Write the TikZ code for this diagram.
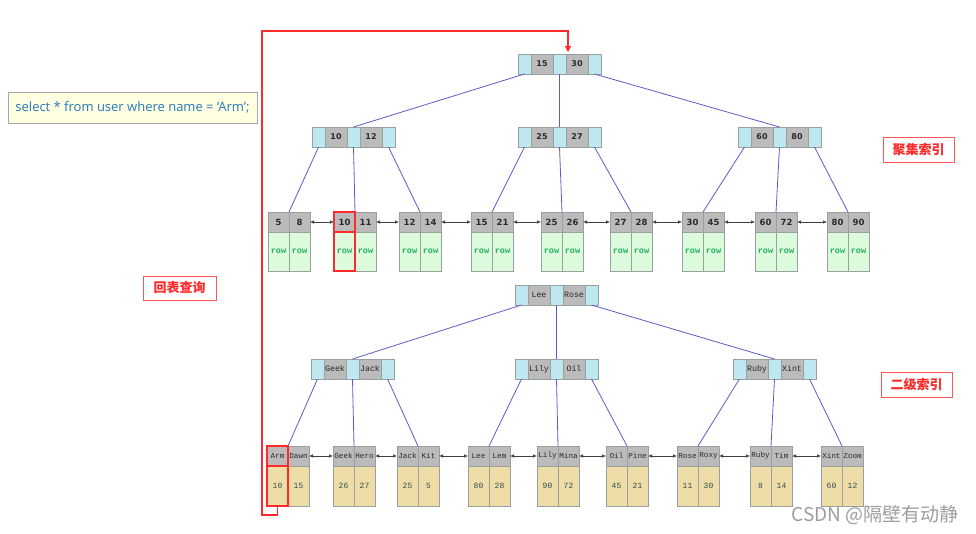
\documentclass[tikz,border=0pt]{standalone}
\usepackage{fontspec}
\usetikzlibrary{arrows.meta}
\newfontfamily\cjkf{Noto Sans CJK SC}
\newfontfamily\numf{DejaVu Sans}
\newfontfamily\monof{Liberation Mono}
\newfontfamily\sqlf{Open Sans}
\definecolor{cyanc}{HTML}{BDE8EF}
\definecolor{grayc}{HTML}{BBBBBB}
\definecolor{bordc}{HTML}{9AA0A0}
\definecolor{greenc}{HTML}{DCFADC}
\definecolor{tanc}{HTML}{EFDDA8}
\definecolor{rowgreen}{HTML}{20B060}
\definecolor{edgec}{HTML}{5C5CC8}
\definecolor{arrowc}{HTML}{404040}
\definecolor{redc}{HTML}{FF2A2A}
\definecolor{sqlfill}{HTML}{FFFFE2}
\definecolor{sqltext}{HTML}{2878B8}
\definecolor{txtc}{HTML}{2A2A2A}
\definecolor{valc}{HTML}{2F4F4F}
\tikzset{
  cell/.style={draw=bordc, line width=0.7pt, anchor=north west, inner sep=0pt, outer sep=0pt, minimum height=20pt, text=txtc},
  cy/.style={cell, fill=cyanc, minimum width=13pt},
  gy/.style={cell, fill=grayc, minimum width=22pt},
  numfont/.style={font=\numf\bfseries\fontsize{8}{9}\selectfont},
  leafnum/.style={font=\numf\bfseries\fontsize{8.5}{9}\selectfont},
  monofont/.style={font=\monof\fontsize{8.3}{9}\selectfont},
  leafmono/.style={font=\monof\fontsize{7.6}{9}\selectfont},
  lk/.style={cell, fill=grayc, minimum width=21pt},
  rowv/.style={cell, fill=greenc, minimum width=21pt, minimum height=39pt, text=rowgreen, font=\monof\bfseries\fontsize{8.5}{9}\selectfont},
  tanv/.style={cell, fill=tanc, minimum width=21pt, minimum height=40pt, text=valc, font=\monof\fontsize{8}{9}\selectfont},
  edge/.style={draw=edgec, line width=0.8pt},
  larrow/.style={draw=arrowc, line width=0.6pt, {Latex[length=4pt,width=3.5pt]}-{Latex[length=4pt,width=3.5pt]}},
  redhl/.style={draw=redc, line width=1.5pt},
  redline/.style={draw=redc, line width=1.1pt, -{Triangle[length=6pt,width=6pt]}},
  redlabel/.style={draw=redc!80, line width=0.8pt, fill=white, text=redc, inner sep=0pt, minimum width=71pt, minimum height=25pt, font=\cjkf\bfseries\fontsize{13}{15}\selectfont},
}
\newcommand\inode[6]{%
 \node[cy] (#1-c1) at (#2,#3) {};
 \node[gy,#6] (#1-k1) at (#1-c1.north east) {#4};
 \node[cy] (#1-c2) at (#1-k1.north east) {};
 \node[gy,#6] (#1-k2) at (#1-c2.north east) {#5};
 \node[cy] (#1-c3) at (#1-k2.north east) {};
}
\newcommand\leaf[9]{%
 \node[lk,#9] (#1-k1) at (#2,#3) {#4};
 \node[lk,#9] (#1-k2) at (#1-k1.north east) {#5};
 \node[#8] (#1-v1) at (#1-k1.south west) {#6};
 \node[#8] (#1-v2) at (#1-v1.north east) {#7};
}
\begin{document}
\begin{tikzpicture}[x=1pt,y=-1pt]
\useasboundingbox (0,0) rectangle (976,533);
\fill[white] (0,0) rectangle (976,533);

% clustered index
\inode{R0}{518}{54}{15}{30}{numfont}
\inode{N1}{312}{127}{10}{12}{numfont}
\inode{N2}{518}{127}{25}{27}{numfont}
\inode{N3}{738}{127}{60}{80}{numfont}
\leaf{C1}{268}{212}{5}{8}{row}{row}{rowv}{leafnum}
\leaf{C2}{334}{212}{10}{11}{row}{row}{rowv}{leafnum}
\leaf{C3}{399}{212}{12}{14}{row}{row}{rowv}{leafnum}
\leaf{C4}{471}{212}{15}{21}{row}{row}{rowv}{leafnum}
\leaf{C5}{541}{212}{25}{26}{row}{row}{rowv}{leafnum}
\leaf{C6}{610}{212}{27}{28}{row}{row}{rowv}{leafnum}
\leaf{C7}{682}{212}{30}{45}{row}{row}{rowv}{leafnum}
\leaf{C8}{755}{212}{60}{72}{row}{row}{rowv}{leafnum}
\leaf{C9}{827}{212}{80}{90}{row}{row}{rowv}{leafnum}

\draw[edge] (R0-c1.south) -- (N1-c2.north);
\draw[edge] (R0-c2.south) -- (N2-c2.north);
\draw[edge] (R0-c3.south) -- (N3-c2.north);
\draw[edge] (N1-c1.south) -- (C1-k1.north east);
\draw[edge] (N1-c2.south) -- (C2-k1.north east);
\draw[edge] (N1-c3.south) -- (C3-k1.north east);
\draw[edge] (N2-c1.south) -- (C4-k1.north east);
\draw[edge] (N2-c2.south) -- (C5-k1.north east);
\draw[edge] (N2-c3.south) -- (C6-k1.north east);
\draw[edge] (N3-c1.south) -- (C7-k1.north east);
\draw[edge] (N3-c2.south) -- (C8-k1.north east);
\draw[edge] (N3-c3.south) -- (C9-k1.north east);
\foreach \a/\b in {1/2,2/3,3/4,4/5,5/6,6/7,7/8,8/9}
  \draw[larrow] (C\a-k2.east) -- (C\b-k1.west);

% secondary index
\inode{T0}{515}{285}{Lee}{Rose}{monofont}
\inode{M1}{311}{359}{Geek}{Jack}{monofont}
\inode{M2}{515}{359}{Lily}{Oil}{monofont}
\inode{M3}{733}{359}{Ruby}{Xint}{monofont}
\leaf{S1}{267}{446}{Arm}{Dawn}{10}{15}{tanv}{leafmono}
\leaf{S2}{333}{446}{Geek}{Hero}{26}{27}{tanv}{leafmono}
\leaf{S3}{397}{446}{Jack}{Kit}{25}{5}{tanv}{leafmono}
\leaf{S4}{468}{446}{Lee}{Lem}{80}{28}{tanv}{leafmono}
\leaf{S5}{537}{446}{Lily}{Mina}{90}{72}{tanv}{leafmono}
\leaf{S6}{606}{446}{Oil}{Pine}{45}{21}{tanv}{leafmono}
\leaf{S7}{677}{446}{Rose}{Roxy}{11}{30}{tanv}{leafmono}
\leaf{S8}{750}{446}{Ruby}{Tim}{8}{14}{tanv}{leafmono}
\leaf{S9}{821}{446}{Xint}{Zoom}{60}{12}{tanv}{leafmono}

\draw[edge] (T0-c1.south) -- (M1-c2.north);
\draw[edge] (T0-c2.south) -- (M2-c2.north);
\draw[edge] (T0-c3.south) -- (M3-c2.north);
\draw[edge] (M1-c1.south) -- (S1-k1.north east);
\draw[edge] (M1-c2.south) -- (S2-k1.north east);
\draw[edge] (M1-c3.south) -- (S3-k1.north east);
\draw[edge] (M2-c1.south) -- (S4-k1.north east);
\draw[edge] (M2-c2.south) -- (S5-k1.north east);
\draw[edge] (M2-c3.south) -- (S6-k1.north east);
\draw[edge] (M3-c1.south) -- (S7-k1.north east);
\draw[edge] (M3-c2.south) -- (S8-k1.north east);
\draw[edge] (M3-c3.south) -- (S9-k1.north east);
\foreach \a/\b in {1/2,2/3,3/4,4/5,5/6,6/7,7/8,8/9}
  \draw[larrow] (S\a-k2.east) -- (S\b-k1.west);

% red highlights
\draw[redhl] (C2-k1.north west) rectangle (C2-k1.south east);
\draw[redhl] (C2-v1.north west) rectangle (C2-v1.south east);
\draw[redhl] (S1-k1.north west) rectangle (S1-k1.south east);
\draw[redhl] (S1-v1.north west) rectangle (S1-v1.south east);

% back-to-table path
\coordinate (loopBL) at (262,515);
\coordinate (loopTL) at (262,31);
\coordinate (entry) at (568,52);
\draw[redline] (S1-v1.south) |- (loopBL) -- (loopTL) -| (entry);

% labels
\node[draw=black!35, line width=0.8pt, fill=sqlfill, text=sqltext, minimum width=249pt, minimum height=31pt, inner sep=0pt, font=\sqlf\fontsize{13}{15}\selectfont] (sql) at (132.5,107.5) {select * from user where name = ‘Arm’;};
\node[redlabel] (lab1) at (918.5,149.5) {聚集索引};
\node[redlabel] (lab2) at (916.5,385) {二级索引};
\node[redlabel, minimum width=73pt, minimum height=24pt] (lab3) at (179.5,288) {回表查询};
\node[text=black!38, font=\cjkf\fontsize{19}{21}\selectfont, inner sep=0pt] (wm) at (875,515) {CSDN @隔壁有动静};
\end{tikzpicture}
\end{document}
